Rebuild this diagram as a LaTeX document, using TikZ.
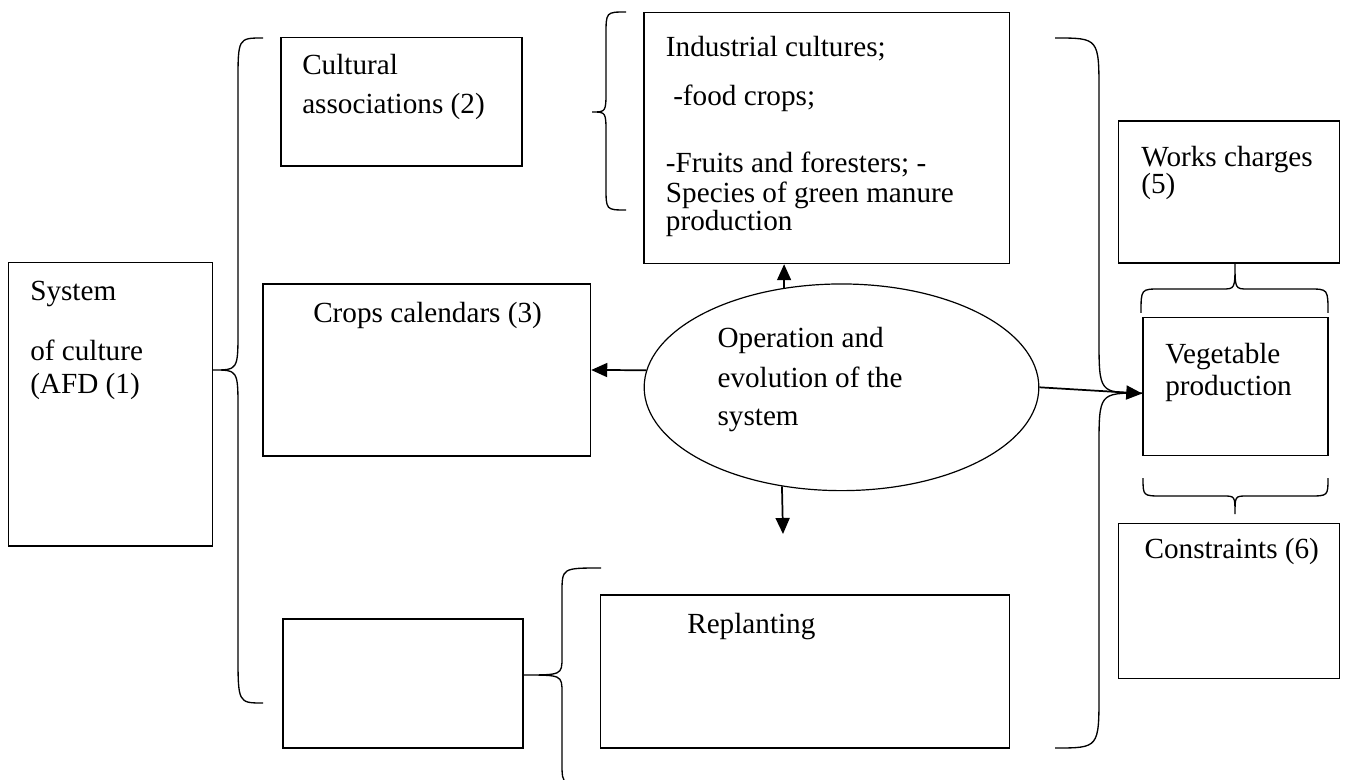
\documentclass[tikz,border=0pt]{standalone}
\usepackage{fontspec}
\setmainfont{Liberation Serif}
\usetikzlibrary{arrows.meta,fit,shapes.geometric,calc}

\begin{document}
\begin{tikzpicture}[x=0.75pt,y=-0.75pt,
  box/.style={draw,line width=1.1pt,inner sep=0pt},
  txt/.style={anchor=base west,align=left,inner sep=0pt,
    font=\fontsize{21.9pt}{22.5pt}\selectfont},
  brc/.style={line width=1pt},
  arr/.style={line width=1.3pt,-{Triangle[length=12pt,width=10.5pt]}}]
  \useasboundingbox (0,0) rectangle (1345,780);

  % boxes
  \node (sys)   [box, fit={(8.5,262.5) (212.5,546)}] {};
  \node (cult)  [box, fit={(281,37.5) (522,166)}] {};
  \node (ind)   [box, fit={(644,12.5) (1009.5,263.5)}] {};
  \node (crops) [box, fit={(263,284) (590.5,456)}] {};
  \node (blank) [box, fit={(283,619) (523,748)}] {};
  \node (repl)  [box, fit={(600.5,595) (1009.5,748)}] {};
  \node (works) [box, fit={(1118.5,121) (1339.5,263)}] {};
  \node (veg)   [box, fit={(1143,317.5) (1328,455.5)}] {};
  \node (cons)  [box, fit={(1118.5,523.5) (1339.5,678.5)}] {};

  % operation
  \node (ell) [draw, ellipse, line width=0.9pt, inner sep=0pt,
    minimum width=296pt, minimum height=155pt] at (841.5,387.3) {};

  % texts (placed by the baseline of their last line)
  \node (sysT)   [txt] at (30,393) {System\\[22.5pt]of culture\\[2pt](AFD (1)};
  \node (cultT)  [txt] at (302,114) {Cultural\\[6.75pt]associations (2)};
  \node (cropsT) [txt] at (313,322.7) {Crops calendars (3)};
  \node (indT)   [txt] at (665.7,231) {Industrial cultures;\\[14.5pt]
    \ -food crops;\\[28pt]-Fruits and foresters; -\\Species of green manure\\[-1.5pt]production};
  \node (ellT)   [txt] at (717.3,425) {Operation and\\[7pt]evolution of the\\[5.8pt]system};
  \node (replT)  [txt] at (687,633.3) {Replanting};
  \node (worksT) [txt] at (1141,194) {Works charges\\[-2pt](5)};
  \node (vegT)   [txt] at (1165,395) {Vegetable\\[1.3pt]production};
  \node (consT)  [txt] at (1144.3,558.3) {Constraints (6)};

  % braces
  \draw [brc] (263,38) .. controls (238,38) .. (238,83) -- (238,330)
    .. controls (238,370) .. (213,370) .. controls (238,370) .. (238,410)
    -- (238,653) .. controls (238,703) .. (263,703);
  \draw [brc] (626,12) .. controls (606,12) .. (606,35) -- (606,90)
    .. controls (606,112) .. (592,112) .. controls (606,112) .. (606,134)
    -- (606,187) .. controls (606,210) .. (626,210);
  \draw [brc] (601,568) .. controls (562,568) .. (562,593) -- (562,657)
    .. controls (562,675) .. (523,675) .. controls (562,675) .. (562,693)
    -- (562,763) .. controls (562,786) .. (601,786);
  \draw [brc] (1055,38) .. controls (1099,38) .. (1099,93) -- (1099,338)
    .. controls (1099,393) .. (1142,393) .. controls (1099,393) .. (1099,448)
    -- (1099,693) .. controls (1099,748) .. (1055,748);
  \draw [brc] (1141,313) .. controls (1141,289) .. (1160,289) -- (1222,289)
    .. controls (1235,289) .. (1235,263) .. controls (1235,289) .. (1248,289)
    -- (1309,289) .. controls (1328,289) .. (1328,313);
  \draw [brc] (1143,478) .. controls (1143,496) .. (1162,496) -- (1223,496)
    .. controls (1235,496) .. (1235,514) .. controls (1235,496) .. (1247,496)
    -- (1309,496) .. controls (1328,496) .. (1328,478);

  % arrows
  \coordinate (dn) at (783,534);
  \draw [arr] (ell.120.7) -- (ell.120.7 |- ind.south);
  \draw [arr] (ell.175.5) -- (crops.east);
  \draw [arr] (ell.239.3) -- (dn);
  \draw [arr] (ell.east) -- ($(veg.west)+(0,7)$);

\end{tikzpicture}
\end{document}
